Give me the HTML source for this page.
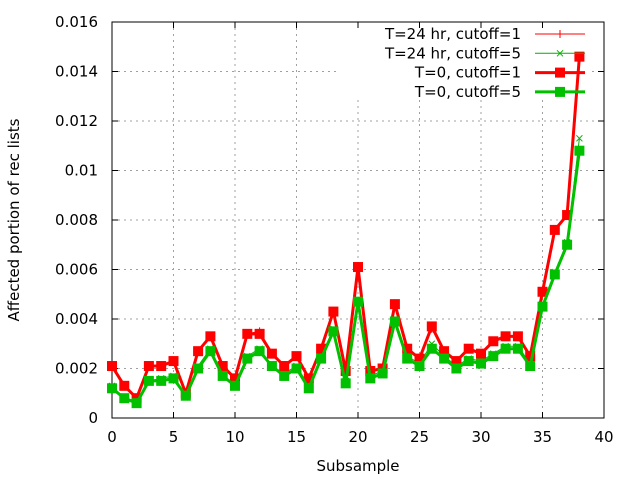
<!DOCTYPE html>
<html><head><meta charset="utf-8"><style>
body{margin:0;background:#fff}
svg{display:block;font-family:"DejaVu Sans","Liberation Sans",sans-serif}
</style></head><body>
<svg id="chart" width="640" height="480"></svg>
<script>
const xs=[0,1,2,3,4,5,6,7,8,9,10,11,12,13,14,15,16,17,18,19,20,21,22,23,24,25,26,27,28,29,30,31,32,33,34,35,36,37,38];
const red0=[0.0021,0.0013,0.0008,0.0021,0.0021,0.0023,0.0010,0.0027,0.0033,0.0021,0.0016,0.0034,0.0034,0.0026,0.0021,0.0025,0.0016,0.0028,0.0043,0.0019,0.0061,0.0019,0.0020,0.0046,0.0028,0.0024,0.0037,0.0027,0.0023,0.0028,0.0026,0.0031,0.0033,0.0033,0.0025,0.0051,0.0076,0.0082,0.0146];
const red24=[0.0021,0.0013,0.0008,0.0021,0.0021,0.0023,0.0010,0.0027,0.0033,0.0021,0.0016,0.0034,0.0035,0.0026,0.0021,0.0025,0.0016,0.0028,0.0043,0.0019,0.0060,0.0019,0.0020,0.0045,0.0028,0.0024,0.0036,0.0027,0.0023,0.0028,0.0026,0.0031,0.0033,0.0033,0.0025,0.0051,0.0076,0.0082,0.0146];
const green0=[0.0012,0.0008,0.0006,0.0015,0.0015,0.0016,0.0009,0.0020,0.0027,0.0017,0.0013,0.0024,0.0027,0.0021,0.0017,0.0020,0.0012,0.0024,0.0035,0.0014,0.0047,0.0016,0.0018,0.0039,0.0024,0.0021,0.0028,0.0024,0.0020,0.0023,0.0022,0.0025,0.0028,0.0028,0.0021,0.0045,0.0058,0.0070,0.0108];
const green24=[0.0013,0.0008,0.0007,0.0015,0.0016,0.0017,0.0009,0.0021,0.0028,0.0017,0.0014,0.0025,0.0028,0.0021,0.0018,0.0021,0.0013,0.0025,0.0036,0.0015,0.0048,0.0017,0.0019,0.0040,0.0025,0.0022,0.0030,0.0025,0.0021,0.0024,0.0023,0.0026,0.0029,0.0029,0.0022,0.0046,0.0059,0.0071,0.0113];
const xTicks=[0,5,10,15,20,25,30,35,40];
const yTicks=[0,0.002,0.004,0.006,0.008,0.01,0.012,0.014,0.016];
const yLabels=["0","0.002","0.004","0.006","0.008","0.01","0.012","0.014","0.016"];

const L=112,R=604,T=22,B=418;
const X=v=>L+(v-0)/(40-0)*(R-L);
const Y=v=>B-(v/0.016)*(B-T);
const svg=document.getElementById('chart');
const NS='http://www.w3.org/2000/svg';
function mk(tag,attrs,parent){const e=document.createElementNS(NS,tag);for(const k in attrs)e.setAttribute(k,attrs[k]);(parent||svg).appendChild(e);return e;}

const grid=mk('g',{});


xTicks.forEach(t=>{if(t>0&&t<40)mk('line',{x1:X(t),x2:X(t),y1:T,y2:B,stroke:'#a0a0a0','stroke-dasharray':'2,4','stroke-width':1},grid);});
yTicks.forEach(t=>{if(t>0&&t<0.016)mk('line',{x1:L,x2:R,y1:Y(t),y2:Y(t),stroke:'#a0a0a0','stroke-dasharray':'2,4','stroke-width':1},grid);});

const lbg=mk('rect',{x:340,y:24,width:252,height:76,fill:'#fff'});



const frame=mk('rect',{x:L,y:T,width:R-L,height:B-T,fill:'none',stroke:'#000','stroke-width':1});



xTicks.forEach(t=>{
  mk('line',{x1:X(t),x2:X(t),y1:B,y2:B-6,stroke:'#000'});
  mk('line',{x1:X(t),x2:X(t),y1:T,y2:T+6,stroke:'#000'});
  const tx=mk('text',{x:X(t),y:B+24,'text-anchor':'middle','font-size':15,fill:'#000'});
  tx.textContent=t;
  
  
});
yTicks.forEach((t,i)=>{
  mk('line',{x1:L,x2:L+6,y1:Y(t),y2:Y(t),stroke:'#000'});
  mk('line',{x1:R,x2:R-6,y1:Y(t),y2:Y(t),stroke:'#000'});
  const tx=mk('text',{x:L-14,y:Y(t)+5,'text-anchor':'end','font-size':15,fill:'#000'});
  tx.textContent=yLabels[i];
  
  
});
const xt=mk('text',{x:358,y:471,'text-anchor':'middle','font-size':15});
xt.textContent='Subsample';


const yt=mk('text',{x:19,y:220,'text-anchor':'middle','font-size':15,transform:'rotate(-90 19 220)'});
yt.textContent='Affected portion of rec lists';



function marker(g,type,x,y,color){
  if(type==='plus'){mk('path',{d:`M${x-4},${y}h8M${x},${y-4}v8`,stroke:color,'stroke-width':1},g);}
  else if(type==='cross'){mk('path',{d:`M${x-3},${y-3}l6,6M${x-3},${y+3}l6,-6`,stroke:color,'stroke-width':1},g);}
  else {mk('rect',{x:x-5,y:y-5,width:10,height:10,fill:color},g);}
}
function series(name,vals,color,width,type){
  const g=mk('g',{});
  
  
  mk('polyline',{points:xs.map((x,i)=>X(x)+','+Y(vals[i])).join(' '),fill:'none',stroke:color,'stroke-width':width,'stroke-linejoin':'round'},g);
  xs.forEach((x,i)=>marker(g,type,X(x),Y(vals[i]),color));
}
series('series-t24-cutoff1',red24,'#ff0000',1,'plus');
series('series-t24-cutoff5',green24,'#00b000',1,'cross');
series('series-t0-cutoff1',red0,'#ff0000',3,'square');
series('series-t0-cutoff5',green0,'#00c000',3,'square');

const legend=[['T=24 hr, cutoff=1','#ff0000',1,'plus'],['T=24 hr, cutoff=5','#00b000',1,'cross'],['T=0, cutoff=1','#ff0000',3,'square'],['T=0, cutoff=5','#00c000',3,'square']];
legend.forEach((e,i)=>{
  const y=34+i*19.3;
  const g=mk('g',{});
  
  
  const tx=mk('text',{x:521,y:y+5,'text-anchor':'end','font-size':15},g);
  tx.textContent=e[0];
  mk('line',{x1:535,x2:585,y1:y,y2:y,stroke:e[1],'stroke-width':e[2]},g);
  marker(g,e[3],560,y,e[1]);
});
</script>
</body></html>
